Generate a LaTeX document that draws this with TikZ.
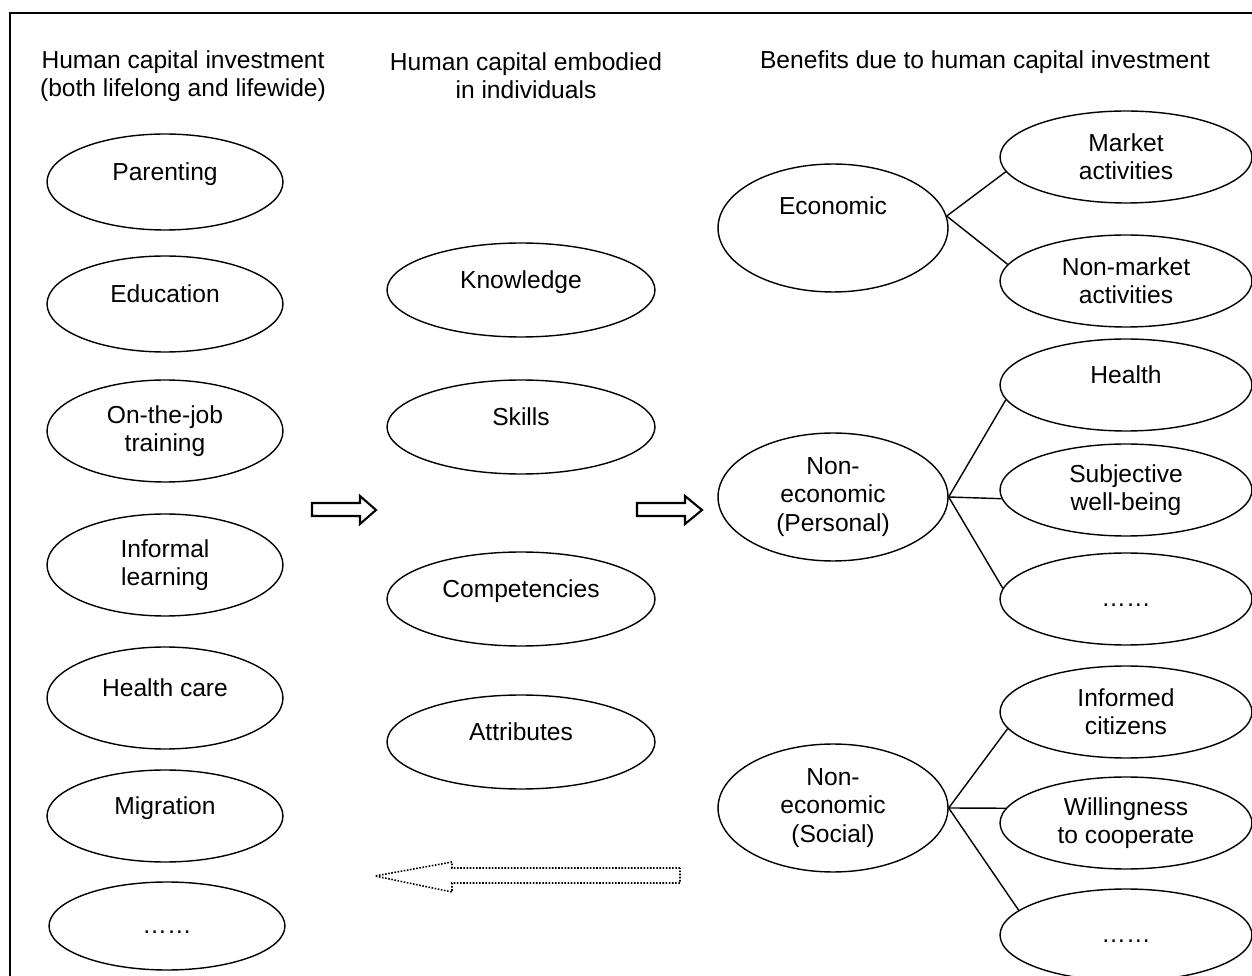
\documentclass[tikz,border=0pt]{standalone}
\usepackage{fontspec}
\setmainfont{Liberation Sans}
\usetikzlibrary{shapes.geometric}
\begin{document}
\begin{tikzpicture}[x=0.02cm, y=-0.02cm,
  every node/.style={font=\fontsize{14}{16}\selectfont, align=center},
  oval/.style={draw, ellipse, line width=0.8pt, inner sep=0pt},
  invest/.style={oval, minimum width=4.72cm, minimum height=1.92cm},
  embod/.style={oval, minimum width=5.36cm, minimum height=1.88cm},
  benef/.style={oval, minimum width=4.6cm, minimum height=2.56cm},
  detail/.style={oval, minimum width=5.04cm, minimum height=1.84cm},
  oneline/.style={text depth=12pt},
  dots/.style={text height=8pt, text depth=0pt},
  link/.style={line width=0.8pt},
  block/.style={line width=1.2pt, line join=miter}]

\useasboundingbox (0,0) rectangle (1252,976);
\draw [line width=1.1pt] (10,976) -- (10,13) -- (1252,13);

\node (hinv) at (183,76) {Human capital investment\\(both lifelong and lifewide)};
\node (hemb) at (526,76) {Human capital embodied\\in individuals};
\node (hben) at (985,62) {Benefits due to human capital investment};

\node [invest, oneline] (par) at (165,182) {Parenting};
\node [invest, oneline] (edu) at (165,304) {Education};
\node [invest, minimum height=2.04cm] (job) at (165,431) {On-the-job\\training};
\node [invest, minimum height=2.04cm] (inf) at (165,565) {Informal\\learning};
\node [invest, oneline, minimum height=2.04cm] (hcare) at (165,698) {Health care};
\node [invest, oneline, minimum height=1.84cm] (mig) at (165,816) {Migration};
\node [invest, dots, minimum height=1.76cm] (imore) at (167,926) {……};

\node [embod, oneline] (know) at (521,290) {Knowledge};
\node [embod, oneline] (skill) at (521,427) {Skills};
\node [embod, oneline] (comp) at (521,599) {Competencies};
\node [embod, oneline] (attr) at (521,742) {Attributes};

\node [benef, text depth=26pt] (econ) at (833,228) {Economic};
\node [benef] (pers) at (833,497) {Non-\\economic\\(Personal)};
\node [benef] (soc) at (833,808) {Non-\\economic\\(Social)};

\node [detail] (mkt) at (1126,157) {Market\\activities};
\node [detail] (nmkt) at (1126,281) {Non-market\\activities};
\node [detail, oneline] (hlth) at (1126,385) {Health};
\node [detail] (swb) at (1126,490) {Subjective\\well-being};
\node [detail, dots] (pmore) at (1126,599) {……};
\node [detail] (cit) at (1126,712) {Informed\\citizens};
\node [detail] (coop) at (1126,823) {Willingness\\to cooperate};
\node [detail, dots] (smore) at (1126,935) {……};

\draw [link] (econ.6) -- (mkt.187);
\draw [link] (econ.6) -- (nmkt.172);
\draw [link] (pers.east) -- (hlth.187);
\draw [link] (pers.east) -- (swb.184);
\draw [link] (pers.east) -- (pmore.175);
\draw [link] (soc.east) -- (cit.188);
\draw [link] (soc.east) -- (coop.173);
\draw [link] (soc.east) -- (smore.167);

\draw [block] (312,503) -- (360,503) -- (360,496) -- (376,510) -- (360,524) -- (360,516) -- (312,516) -- cycle;
\draw [block] (637,503) -- (685,503) -- (685,496) -- (702,510) -- (685,524) -- (685,516) -- (637,516) -- cycle;
\draw [line width=0.9pt, dash pattern=on 0.9pt off 0.9pt] (680,868) -- (452,868) -- (452,862) -- (375,876) -- (452,892) -- (452,883) -- (680,883) -- cycle;
\end{tikzpicture}
\end{document}
